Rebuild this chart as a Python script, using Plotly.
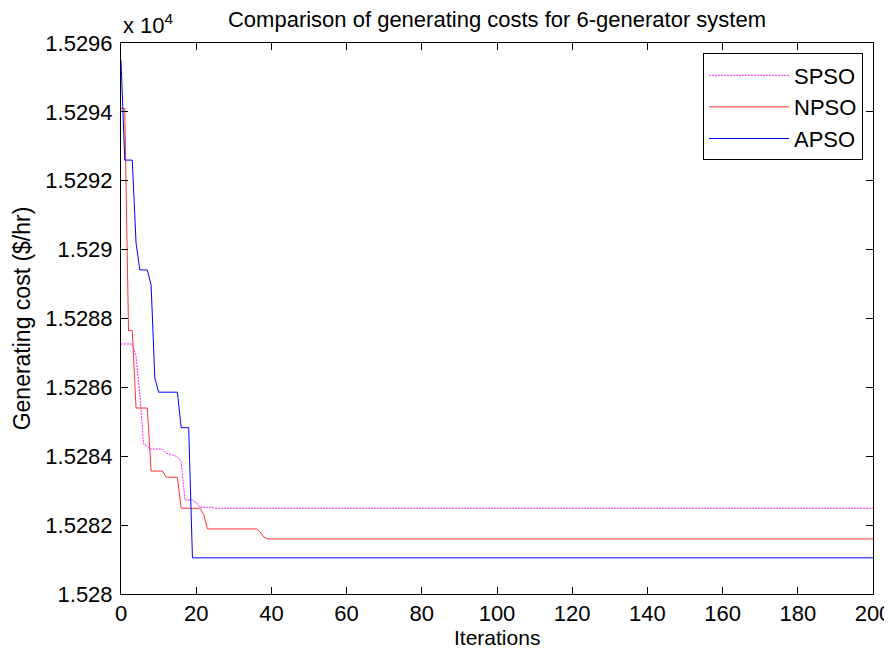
import plotly.graph_objects as go

# ---- data ----
spso_iter = [0, 3, 4, 5, 6, 8, 11, 12, 15, 16, 17, 19, 20, 21, 24, 25, 200]
spso_cost = [15287.26, 15287.26, 15286.9, 15285.8, 15284.36, 15284.21, 15284.21,
             15284.09, 15283.99, 15283.85, 15282.73, 15282.73, 15282.65, 15282.52,
             15282.52, 15282.49, 15282.49]

npso_iter = [0, 1, 2, 3, 4, 7, 8, 11, 12, 15, 16, 21, 22, 23, 36, 37, 38, 39, 200]
npso_cost = [15294.1, 15294.1, 15287.65, 15287.65, 15285.4, 15285.4, 15283.57,
             15283.57, 15283.39, 15283.39, 15282.49, 15282.49, 15282.3, 15281.89,
             15281.89, 15281.8, 15281.65, 15281.6, 15281.6]

apso_iter = [0, 1, 3, 4, 5, 7, 8, 9, 10, 15, 16, 18, 19, 200]
apso_cost = [15295.5, 15292.6, 15292.6, 15290.2, 15289.41, 15289.41, 15288.98,
             15286.27, 15285.86, 15285.86, 15284.83, 15284.83, 15281.05, 15281.05]

x_ticks = [0, 20, 40, 60, 80, 100, 120, 140, 160, 180, 200]
y_ticks = [15280, 15282, 15284, 15286, 15288, 15290, 15292, 15294, 15296]
y_tick_labels = ["1.528", "1.5282", "1.5284", "1.5286", "1.5288", "1.529",
                 "1.5292", "1.5294", "1.5296"]

FONT = "Liberation Sans, Arial, sans-serif"
TF = dict(family=FONT, size=22, color="black")
LF = dict(family=FONT, size=22, color="black")
XTF = dict(family=FONT, size=21, color="black")
YTF = dict(family=FONT, size=23, color="black")

# the page body has an 8px margin, so the figure is 8px smaller and
# its margins are shifted to keep the plot box where the reference has it
W, H = 884, 640
L, T, R, B = 113, 35, 19, 54

fig = go.Figure()
fig.add_trace(go.Scatter(x=spso_iter, y=spso_cost, mode="lines", name="SPSO",
                         line=dict(color="#ff22ff", width=1, dash="2px,1px")))
fig.add_trace(go.Scatter(x=npso_iter, y=npso_cost, mode="lines", name="NPSO",
                         line=dict(color="#ff3333", width=1)))
fig.add_trace(go.Scatter(x=apso_iter, y=apso_cost, mode="lines", name="APSO",
                         line=dict(color="#0000ff", width=1)))

pw, ph = W - L - R, H - T - B
fig.update_layout(
    width=W, height=H,
    margin=dict(l=L, r=R, t=T, b=B, autoexpand=False),
    paper_bgcolor="white", plot_bgcolor="white",
    font=TF,
    title=dict(text="Comparison of generating costs for 6-generator system",
               x=(L + pw / 2) / W, xanchor="center",
               y=1 - 11 / H, yanchor="middle", font=TF, automargin=False),
    showlegend=True,
    legend=dict(x=0.9867, xanchor="right", y=0.981, yanchor="top",
                bordercolor="black", borderwidth=1, bgcolor="white",
                font=LF, itemwidth=80, tracegroupgap=0),
    xaxis=dict(range=[0, 200], tickvals=x_ticks, ticks="inside", ticklen=7,
               tickcolor="black", showline=True, linecolor="black", linewidth=1,
               mirror="ticks", showgrid=False, zeroline=False,
               tickfont=TF, ticklabelstandoff=0),
    yaxis=dict(range=[15280, 15296], tickvals=y_ticks, ticktext=y_tick_labels,
               ticks="inside", ticklen=7, tickcolor="black", showline=True,
               linecolor="black", linewidth=1, mirror="ticks", showgrid=False,
               zeroline=False, tickfont=TF, ticklabelstandoff=3,
               title=dict(text="Generating cost ($/hr)", font=YTF, standoff=8)),
    annotations=[
        dict(text="x 10<sup>4</sup>", xref="paper", yref="paper",
             x=0, y=1, xanchor="left", yanchor="bottom", yshift=3,
             showarrow=False, font=TF),
        dict(text="Iterations", xref="paper", yref="paper",
             x=0.5, y=0, xanchor="center", yanchor="middle", yshift=-43,
             showarrow=False, font=XTF),
    ],
)

fig.write_html("out.html")
